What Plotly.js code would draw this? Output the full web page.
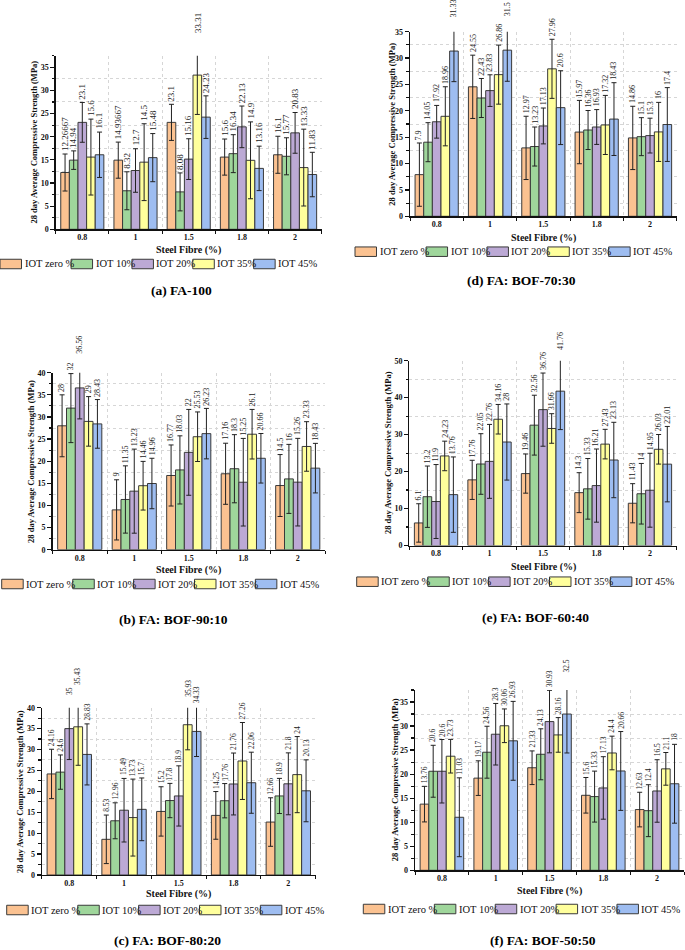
<!DOCTYPE html>
<html><head><meta charset="utf-8">
<script src="https://cdn.plot.ly/plotly-3.0.1.min.js"></script>
<style>html,body{margin:0;padding:0;background:#fff}#chart{width:685px;height:950px}</style>
</head><body><div id="chart"></div>
<script>
const categories = ['0.8', '1', '1.5', '1.8', '2'];
const seriesNames = ['IOT zero %', 'IOT 10%', 'IOT 20%', 'IOT 35%', 'IOT 45%'];
const panelTitles = ['(a) FA-100', '(b) FA: BOF-90:10', '(c) FA: BOF-80:20', '(d) FA: BOF-70:30', '(e) FA: BOF-60:40', '(f) FA: BOF-50:50'];
const xAxisTitle = 'Steel Fibre (%)';
const yAxisTitle = '28 day Average Compressive Strength (MPa)';

// rows = series (IOT zero, 10, 20, 35, 45), columns = categories
const fa100 = [
  [12.26667, 14.93667, 23.1, 15.6, 16.1],
  [14.94, 8.32, 8.08, 16.34, 15.77],
  [23.1, 12.7, 15.16, 22.13, 20.83],
  [15.6, 14.5, 33.31, 14.9, 13.33],
  [16.1, 15.48, 24.23, 13.16, 11.83]];
const fa100Err = [
  [4.0, 3.9, 3.9, 3.9, 4.0],
  [2.0, 4.1, 4.1, 4.1, 4.0],
  [4.3, 4.7, 4.4, 4.5, 4.4],
  [8.2, 8.3, 8.5, 8.3, 8.3],
  [4.9, 5.2, 4.6, 4.8, 4.8]];

const bof9010 = [
  [28, 9, 16.77, 17.16, 14.5],
  [32, 11.35, 18.03, 18.3, 16],
  [36.56, 13.23, 22, 15.25, 15.26],
  [29, 14.46, 25.53, 26.1, 23.33],
  [28.43, 14.96, 26.23, 20.66, 18.43]];
const bof9010Err = [
  [7.0, 6.8, 6.9, 6.9, 7.0],
  [7.8, 7.6, 7.7, 7.7, 7.8],
  [7.0, 9.5, 9.7, 9.9, 9.9],
  [5.6, 5.5, 5.6, 5.6, 5.6],
  [5.5, 5.7, 5.7, 5.6, 5.6]];

const bof8020 = [
  [24.16, 8.53, 15.2, 14.25, 12.66],
  [24.6, 12.96, 17.8, 17.76, 18.9],
  [35, 15.49, 18.9, 21.76, 21.8],
  [35.43, 13.73, 35.93, 27.26, 24],
  [28.83, 15.7, 34.33, 22.06, 20.13]];
const bof8020Err = [
  [5.9, 5.8, 5.9, 5.7, 5.8],
  [4.1, 4.3, 4.1, 4.1, 4.2],
  [7.4, 7.6, 7.2, 7.4, 7.4],
  [9.2, 9.2, 6.0, 9.2, 9.1],
  [7.3, 7.5, 6.0, 7.3, 7.4]];

const bof7030 = [
  [7.9, 24.55, 12.97, 15.97, 14.86],
  [14.05, 22.43, 13.23, 16.36, 15.1],
  [17.92, 23.83, 17.13, 16.93, 15.3],
  [18.96, 26.86, 27.96, 17.32, 16],
  [31.33, 31.5, 20.6, 18.43, 17.4]];
const bof7030Err = [
  [6.0, 6.0, 6.0, 6.0, 6.0],
  [3.7, 3.7, 3.7, 3.7, 3.6],
  [3.1, 3.0, 3.4, 3.3, 3.3],
  [5.6, 5.6, 5.6, 5.6, 5.6],
  [5.8, 5.9, 7.0, 6.9, 7.0]];

const bof6040 = [
  [6.1, 17.76, 19.46, 14.3, 11.43],
  [13.2, 22.05, 32.56, 15.33, 14],
  [11.9, 22.76, 36.76, 16.21, 14.95],
  [24.23, 34.16, 31.66, 27.43, 26.03],
  [13.76, 28, 41.76, 23.13, 22.01]];
const bof6040Err = [
  [5.2, 5.3, 5.3, 5.4, 5.3],
  [8.3, 8.2, 8.1, 8.2, 8.2],
  [10.0, 10.0, 9.9, 9.9, 10.0],
  [4.0, 4.0, 4.0, 4.0, 4.0],
  [10.2, 10.3, 10.4, 10.2, 10.2]];

const bof5050 = [
  [13.76, 19.17, 21.33, 15.6, 12.63],
  [20.6, 24.56, 24.13, 15.33, 12.4],
  [20.6, 28.3, 30.93, 17.13, 16.5],
  [23.73, 30.06, 28.16, 24.4, 21.1],
  [11.03, 26.93, 32.5, 20.66, 18]];
const bof5050Err = [
  [3.7, 3.6, 3.5, 3.7, 3.6],
  [5.4, 5.4, 5.3, 5.3, 5.4],
  [6.6, 6.4, 6.5, 6.5, 6.5],
  [3.5, 3.5, 3.6, 3.5, 3.4],
  [8.2, 8.2, 8.1, 8.2, 8.2]];

// ---------- styling / layout config ----------
const colors = ['#FBC291', '#9FD69B', '#BCA9D5', '#FFFF9C', '#9EBDF1'];
const W = 685, H = 950;
const SERIF = '"Liberation Serif", "Times New Roman", serif';
const BARGAP = 0.19;

const panels = [
  {vals: fa100, errs: fa100Err, ymax: 37.5, dtick: 5, lblSize: 9, box: [55.7, 321.7, 55.7, 229.3], ytx: 33, xty: 250, leg: [0, 264], tt: [181, 290]},
  {vals: bof9010, errs: bof9010Err, ymax: 40, dtick: 5, lblSize: 8, box: [52.5, 325, 372.7, 549.7], ytx: 31.7, xty: 570, leg: [1.7, 584], tt: [173, 619]},
  {vals: bof8020, errs: bof8020Err, ymax: 40, dtick: 5, lblSize: 7.5, box: [41.9, 315.7, 707.7, 875], ytx: 20.7, xty: 894, leg: [6.7, 910], tt: [167, 940]},
  {vals: bof7030, errs: bof7030Err, ymax: 35, dtick: 5, lblSize: 8, box: [410, 676.7, 31.7, 216.3], ytx: 391.7, xty: 237.7, leg: [355, 251.7], tt: [521.7, 280]},
  {vals: bof6040, errs: bof6040Err, ymax: 50, dtick: 10, lblSize: 8, box: [409.3, 676.7, 360.7, 545.5], ytx: 388, xty: 567, leg: [356.7, 581.7], tt: [535, 617]},
  {vals: bof5050, errs: bof5050Err, ymax: 37.5, dtick: 5, lblSize: 7.5, box: [415, 684, 690, 870.3], ytx: 395, xty: 891, leg: [363.3, 909], tt: [542.7, 940]}
];

const px2x = p => p / W;
const px2y = p => 1 - p / H;

const ctx = document.createElement('canvas').getContext('2d');
const LEG_FONT = 10.5;
ctx.font = LEG_FONT + 'px "Liberation Serif"';

const traces = [];
const annotations = [];
const shapes = [];
const layout = {
  width: W, height: H,
  margin: {l: 0, r: 0, t: 0, b: 0},
  paper_bgcolor: '#fff', plot_bgcolor: 'rgba(0,0,0,0)',
  barmode: 'group', bargap: BARGAP, bargroupgap: 0,
  showlegend: false,
  font: {family: SERIF, color: '#111'},
  annotations: annotations, shapes: shapes
};

const xIdx = categories.map((c, i) => i);
const groupW = 1 - BARGAP;
const nS = seriesNames.length;

panels.forEach((p, pi) => {
  const n = pi + 1;
  const xa = 'x' + n, ya = 'y' + n;
  const [l, r, t, b] = p.box;
  layout['xaxis' + n] = {
    domain: [px2x(l), px2x(r)], anchor: ya,
    range: [-0.5, categories.length - 0.5],
    tickmode: 'array', tickvals: xIdx, ticktext: categories,
    ticks: '', showgrid: false, zeroline: false,
    showline: true, linecolor: '#111', linewidth: 1.3,
    tickfont: {family: SERIF, size: 8, weight: 'bold', color: '#111'},
    minor: {tick0: 0.5, dtick: 1, ticks: 'outside', ticklen: 3, tickcolor: '#111',
            showgrid: true, gridcolor: '#d6d6d6', griddash: 'dot', gridwidth: 1},
    fixedrange: true
  };
  layout['yaxis' + n] = {
    domain: [px2y(b), px2y(t)], anchor: xa,
    range: [0, p.ymax], dtick: p.dtick, tick0: 0,
    ticks: 'outside', ticklen: 4, tickcolor: '#111', tickwidth: 1.2,
    showgrid: false, zeroline: false,
    showline: true, linecolor: '#111', linewidth: 1.3,
    tickfont: {family: SERIF, size: 8, weight: 'bold', color: '#111'},
    minor: {tick0: p.dtick / 2, dtick: p.dtick, ticks: 'outside', ticklen: 2.5, tickcolor: '#111',
            showgrid: true, gridcolor: '#d6d6d6', griddash: 'dot', gridwidth: 1},
    fixedrange: true
  };

  seriesNames.forEach((name, s) => {
    traces.push({
      type: 'bar', name: name, x: xIdx, y: p.vals[s],
      xaxis: xa, yaxis: ya, offsetgroup: String(s),
      marker: {color: colors[s], line: {color: '#3a3a3a', width: 1}},
      error_y: {type: 'data', array: p.errs[s], visible: true, color: '#222', thickness: 1, width: 2.5},
      hoverinfo: 'skip'
    });
    const off = -groupW / 2 + (s + 0.5) * groupW / nS;
    p.vals[s].forEach((v, i) => {
      // label above the upper whisker; y as a fraction of the y-axis domain
      // so labels beyond the axis range are still drawn (as in the reference)
      annotations.push({
        xref: xa, yref: ya + ' domain', x: i + off, y: (v + p.errs[s][i]) / p.ymax,
        text: String(v), textangle: -90, showarrow: false,
        xanchor: 'center', yanchor: 'bottom', yshift: 1,
        font: {family: SERIF, size: p.lblSize, color: '#222'}
      });
    });
  });

  // axis titles
  annotations.push({
    xref: 'paper', yref: 'paper', x: px2x(p.ytx), y: px2y((t + b) / 2),
    text: yAxisTitle, textangle: -90, showarrow: false,
    xanchor: 'center', yanchor: 'middle',
    font: {family: SERIF, size: 8.5, weight: 'bold', color: '#111'}
  });
  annotations.push({
    xref: 'paper', yref: 'paper', x: px2x((l + r) / 2), y: px2y(p.xty),
    text: xAxisTitle, showarrow: false, xanchor: 'center', yanchor: 'middle',
    font: {family: SERIF, size: 10, weight: 'bold', color: '#111'}
  });
  // panel title
  annotations.push({
    xref: 'paper', yref: 'paper', x: px2x(p.tt[0]), y: px2y(p.tt[1]),
    text: panelTitles[pi], showarrow: false, xanchor: 'center', yanchor: 'middle',
    font: {family: SERIF, size: 13.5, weight: 'bold', color: '#000'}
  });
  // custom legend built from series names
  let cx = p.leg[0];
  const cy = p.leg[1];
  seriesNames.forEach((name, s) => {
    const sw = 21.5, sh = 9.5;
    shapes.push({
      type: 'rect', xref: 'paper', yref: 'paper',
      x0: px2x(cx), x1: px2x(cx + sw), y0: px2y(cy - sh / 2), y1: px2y(cy + sh / 2),
      fillcolor: colors[s], line: {color: '#3a3a3a', width: 1}
    });
    annotations.push({
      xref: 'paper', yref: 'paper', x: px2x(cx + sw + 1), y: px2y(cy),
      text: name, showarrow: false, xanchor: 'left', yanchor: 'middle',
      font: {family: SERIF, size: LEG_FONT, color: '#111'}
    });
    cx += sw + ctx.measureText(name).width;
  });
});

Plotly.newPlot('chart', traces, layout, {displayModeBar: false, staticPlot: true});
</script>
</body></html>
